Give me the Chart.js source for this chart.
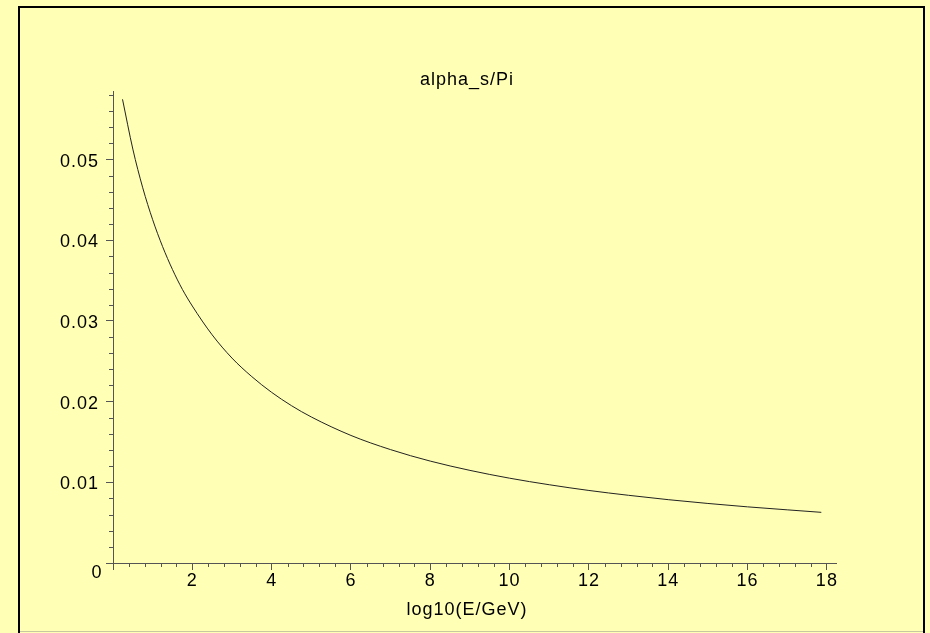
<!DOCTYPE html>
<html>
<head>
<meta charset="utf-8">
<script src="https://cdn.jsdelivr.net/npm/chart.js@4"></script>
<style>
  html, body { margin: 0; padding: 0; background: #ffffb5; }
  #plot { display: block; }
</style>
</head>
<body>
<canvas id="plot" width="930" height="633"></canvas>
<script>
// log10(E/GeV) sample positions
const logE = [0.24, 0.5, 0.75, 1, 1.25, 1.5, 1.75, 2, 2.5, 3, 3.5, 4, 4.5, 5, 6, 7, 8, 9, 10, 11, 12, 13, 14, 15, 16, 17, 17.86];
// alpha_s/Pi at those positions
const alphaOverPi = [0.05747, 0.05130, 0.04650, 0.04255, 0.03922, 0.03637, 0.03391, 0.03185, 0.02828, 0.02540, 0.02310, 0.02115, 0.01950, 0.01810, 0.01581, 0.01405, 0.01263, 0.01148, 0.01051, 0.00970, 0.00899, 0.00839, 0.00785, 0.00738, 0.00696, 0.00659, 0.00628];

const titleText = "alpha_s/Pi";
const xTitle = "log10(E/GeV)";
const xMin = 0, xMax = 18.23, xStep = 2, xMinor = 0.4;
const yMin = 0, yMax = 0.0585, yStep = 0.01, yMinor = 0.002;

const bg = "#ffffb5";
const axisCol = "#555555";
const fontFam = "'Liberation Sans', Arial, sans-serif";
const fontSize = 18;

const points = logE.map((x, i) => ({ x: x, y: alphaOverPi[i] }));

// background, page frame, titles, minor ticks and the lone "0" at the origin
const decor = {
    id: "decor",
    beforeDraw(chart) {
        const c = chart.ctx;
        c.save();
        c.fillStyle = bg;
        c.fillRect(0, 0, chart.width, chart.height);
        c.fillStyle = "#000";
        c.fillRect(18, 6, 2, 627);
        c.fillRect(18, 6, 907, 2);
        c.fillRect(923, 6, 2, 627);
        c.fillStyle = "#c8c8a0";
        c.fillRect(20, 631, 903, 1);
        c.restore();
        // the original text is set a little looser than plain Arial
        c.letterSpacing = "1px";
    },
    afterDraw(chart) {
        const c = chart.ctx;
        const xs = chart.scales.x, ys = chart.scales.y;
        c.save();
        c.strokeStyle = axisCol;
        c.lineWidth = 1;
        c.beginPath();
        const nx = Math.floor(xMax / xMinor + 1e-9);
        for (let i = 1; i <= nx; i++) {
            if (i % 5 === 0) continue;
            const px = Math.round(xs.getPixelForValue(i * xMinor)) + 0.5;
            c.moveTo(px, ys.bottom);
            c.lineTo(px, ys.bottom + 4);
        }
        const ny = Math.floor(yMax / yMinor + 1e-9);
        for (let i = 1; i <= ny; i++) {
            if (i % 5 === 0) continue;
            const py = Math.round(ys.getPixelForValue(i * yMinor)) + 0.5;
            c.moveTo(xs.left - 4, py);
            c.lineTo(xs.left, py);
        }
        c.stroke();

        c.fillStyle = "#000";
        c.font = fontSize + "px " + fontFam;
        c.letterSpacing = "1px";
        c.textAlign = "center";
        c.textBaseline = "middle";
        c.fillText("0", xs.left - 16, ys.bottom + 10);
        c.fillText(titleText, 467, 80);
        c.fillText(xTitle, 467, 610);
        c.restore();
    }
};

new Chart(document.getElementById("plot"), {
    type: "line",
    data: {
        datasets: [{
            data: points,
            borderColor: "#222222",
            borderWidth: 1,
            pointRadius: 0,
            cubicInterpolationMode: "monotone",
            fill: false
        }]
    },
    options: {
        responsive: false,
        devicePixelRatio: 1,
        animation: false,
        layout: { padding: { left: 0, right: 94, top: 91, bottom: 0 } },
        plugins: {
            legend: { display: false },
            tooltip: { enabled: false },
            title: { display: false }
        },
        scales: {
            x: {
                type: "linear",
                min: xMin,
                max: xMax,
                afterFit(scale) { scale.height = 70; },
                border: { display: true, color: axisCol, width: 1 },
                grid: { drawOnChartArea: false, drawTicks: true, tickLength: 7, color: axisCol },
                ticks: {
                    stepSize: xStep,
                    includeBounds: false,
                    maxRotation: 0,
                    autoSkip: false,
                    padding: 0,
                    color: "#000",
                    font: { family: fontFam, size: fontSize },
                    callback: v => v === 0 ? "" : String(v)
                }
            },
            y: {
                type: "linear",
                min: yMin,
                max: yMax,
                afterFit(scale) { scale.width = 113; },
                border: { display: true, color: axisCol, width: 1 },
                grid: { drawOnChartArea: false, drawTicks: true, tickLength: 7, color: axisCol },
                ticks: {
                    stepSize: yStep,
                    includeBounds: false,
                    autoSkip: false,
                    padding: 7,
                    labelOffset: 2,
                    color: "#000",
                    font: { family: fontFam, size: fontSize },
                    callback: v => v === 0 ? "" : v.toFixed(2)
                }
            }
        }
    },
    plugins: [decor]
});
</script>
</body>
</html>
